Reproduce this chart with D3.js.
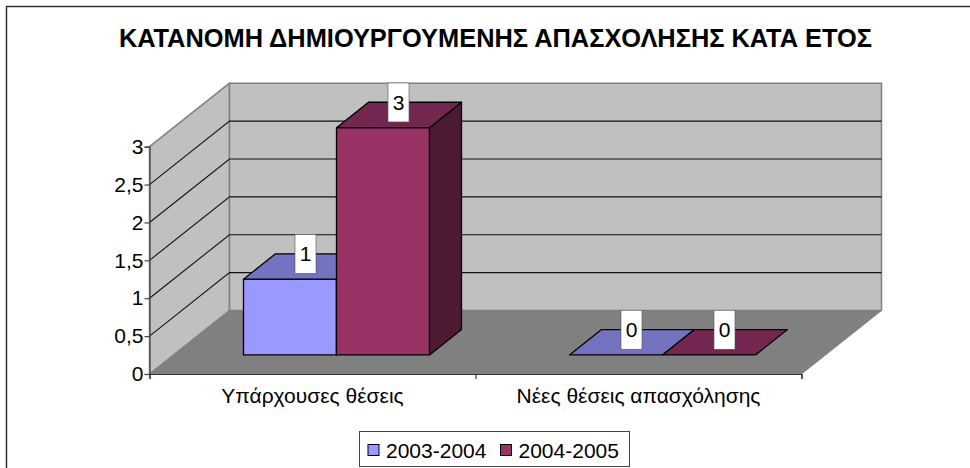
<!DOCTYPE html>
<html><head><meta charset="utf-8">
<style>html,body{margin:0;padding:0;background:#fff}svg{display:block}text{font-family:"Liberation Sans",Arial,sans-serif;fill:#000}</style>
<script src="https://cdnjs.cloudflare.com/ajax/libs/d3/7.8.5/d3.min.js"></script>
</head><body><svg id="c" width="970" height="468"></svg>
<script>
const titleText = "ΚΑΤΑΝΟΜΗ ΔΗΜΙΟΥΡΓΟΥΜΕΝΗΣ ΑΠΑΣΧΟΛΗΣΗΣ ΚΑΤΑ ΕΤΟΣ";
const categories = ["Υπάρχουσες θέσεις", "Νέες θέσεις απασχόλησης"];
const seriesNames = ["2003-2004", "2004-2005"];
const values2003 = [1, 0];
const values2004 = [3, 0];
const yTicks = [0, 0.5, 1, 1.5, 2, 2.5, 3];
const frontColors = ["#9999ff", "#993366"];
const topColors = ["#7373bf", "#732650"];
const sideColors = ["#4d3380", "#4d1a33"];

const svg = d3.select("#c");
const X0 = 149.5, X1 = 801.5, Y0 = 374, Y3 = 146.7, DX = 80, DY = 63.5;
const y = d3.scaleLinear().domain([0, 3]).range([Y0, Y3]);
const x0 = d3.scaleBand().domain(categories).range([X0, X1]);
const x1 = d3.scaleBand().domain(seriesNames).range([0, x0.bandwidth()]).paddingInner(0).paddingOuter(0.7527);
const P = (px, py, d) => [px + DX * d, py - DY * d];
const line = d3.line();
const poly = (pts, fill, stroke, sw) => svg.append("path").attr("d", line(pts) + "Z")
  .attr("fill", fill).attr("stroke", stroke).attr("stroke-width", sw).attr("stroke-linejoin", "round");

// chart frame
svg.append("path").attr("d", "M6.5,468V6.5H970").attr("fill", "none").attr("stroke", "#333").attr("stroke-width", 1.5);

svg.append("text").text(titleText).attr("x", 495.5).attr("y", 47).attr("text-anchor", "middle")
  .attr("font-size", 25.4).attr("font-weight", "bold");

// walls and floor
poly([P(X0, y(0), 0), P(X0, y(3), 0), P(X0, y(3), 1), P(X0, y(0), 1)], "#c0c0c0", "#808080", 1.5);
poly([P(X0, y(0), 1), P(X0, y(3), 1), P(X1, y(3), 1), P(X1, y(0), 1)], "#c0c0c0", "#808080", 1.5);
poly([P(X0, y(0), 0), P(X0, y(0), 1), P(X1, y(0), 1), P(X1, y(0), 0)], "#808080", "#808080", 1);

// gridlines on side and back walls
yTicks.filter(t => t > 0 && t < 3).forEach(t => {
  svg.append("path").attr("d", line([P(X0, y(t), 0), P(X0, y(t), 1), P(X1, y(t), 1)]))
    .attr("fill", "none").attr("stroke", "#111").attr("stroke-width", 1.1);
});

// bars
const rows = [values2003, values2004];
const labelBoxes = [];
categories.forEach((cat, ci) => {
  seriesNames.forEach((s, si) => {
    const v = rows[si][ci];
    const l = x0(cat) + x1(s), r = l + x1.bandwidth();
    const yb = y(0), yt = y(v), zf = 0.3, zb = 0.7;
    if (v > 0) {
      poly([P(l, yb, zf), P(l, yt, zf), P(r, yt, zf), P(r, yb, zf)], frontColors[si], "#000", 1.3);
      poly([P(r, yb, zf), P(r, yt, zf), P(r, yt, zb), P(r, yb, zb)], sideColors[si], "#000", 1.3);
    }
    poly([P(l, yt, zf), P(l, yt, zb), P(r, yt, zb), P(r, yt, zf)], topColors[si], "#000", 1.3);
    const [cx, cy] = P((l + r) / 2, yt, 0.5);
    labelBoxes.push({ v, cx: cx - 0.5, cy: cy - 12.5 });
  });
});

labelBoxes.forEach(d => {
  svg.append("rect").attr("x", d.cx - 10.5).attr("y", d.cy - 19.5).attr("width", 21).attr("height", 39)
    .attr("fill", "#fff").attr("stroke", "#555").attr("stroke-width", 0.6);
  svg.append("text").text(d.v).attr("x", d.cx).attr("y", d.cy + 7.5).attr("text-anchor", "middle").attr("font-size", 21);
});

// axes
const fmt = d => String(d).replace(".", ",");
const ya = svg.append("g").attr("transform", `translate(${X0},0)`)
  .call(d3.axisLeft(y).tickValues(yTicks).tickFormat(fmt).tickSize(5).tickPadding(1));
ya.selectAll("text").attr("font-size", 21).style("font-family", '"Liberation Sans"');
ya.selectAll("line,path").attr("stroke", "#444").attr("stroke-width", 1.2);
const xt = d3.scaleLinear().domain([0, 2]).range([X0, X1]);
const xa = svg.append("g").attr("transform", `translate(0,${Y0})`)
  .call(d3.axisBottom(xt).tickValues([0, 1, 2]).tickFormat("").tickSize(5));
xa.selectAll("line,path").attr("stroke", "#333").attr("stroke-width", 1.2);
const xl = svg.append("g").attr("transform", `translate(0,${Y0})`)
  .call(d3.axisBottom(x0).tickSize(0).tickPadding(14));
xl.select("path").remove();
xl.selectAll("text").attr("font-size", 21).style("font-family", '"Liberation Sans"');

// legend
svg.append("rect").attr("x", 359.5).attr("y", 431.5).attr("width", 270).attr("height", 35)
  .attr("fill", "#fff").attr("stroke", "#444").attr("stroke-width", 1);
const lx = d3.scaleOrdinal().domain(seriesNames).range([368, 500.5]);
seriesNames.forEach((s, i) => {
  svg.append("rect").attr("x", lx(s)).attr("y", 444.5).attr("width", 11).attr("height", 11)
    .attr("fill", frontColors[i]).attr("stroke", "#000").attr("stroke-width", 1);
  svg.append("text").text(s).attr("x", lx(s) + 18).attr("y", 457.5).attr("font-size", 21);
});
</script></body></html>
